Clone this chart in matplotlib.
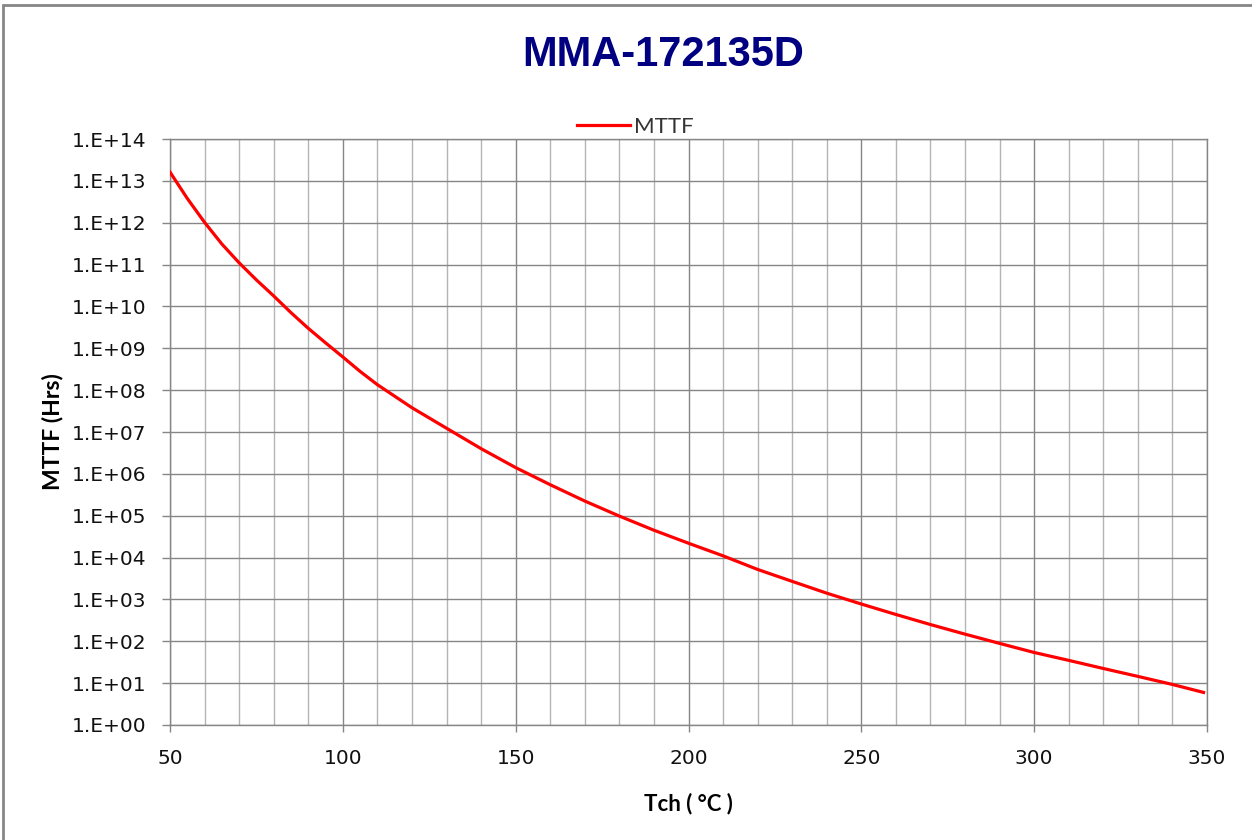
import numpy as np
import matplotlib
matplotlib.use("Agg")
import matplotlib.pyplot as plt
from matplotlib.ticker import MultipleLocator, FixedLocator, FuncFormatter, NullLocator
from matplotlib.patches import Rectangle

# ====== Datos
tch = [50, 55, 60, 65, 70, 75, 80, 85, 90, 95, 100, 105, 110, 120, 130, 140,
       150, 160, 170, 180, 190, 200, 210, 220, 230, 240, 250, 260, 270, 280,
       290, 300, 310, 320, 330, 340, 349]
mttf = [1.62e13, 3.8e12, 1.02e12, 3.1e11, 1.1e11, 4.3e10, 1.78e10, 7.1e9,
        3.0e9, 1.35e9, 6.2e8, 2.8e8, 1.35e8, 3.8e7, 1.23e7, 4.0e6, 1.41e6,
        5.5e5, 2.24e5, 9.8e4, 4.5e4, 2.2e4, 1.1e4, 5.2e3, 2.7e3, 1.41e3, 776,
        437, 251, 148, 89, 54, 35, 22.4, 14.5, 9.3, 6.0]
title = "MMA-172135D"
serie = "MTTF"
x_label = "Tch ( °C )"
y_label = "MTTF (Hrs)"
x_ticks = [50, 100, 150, 200, 250, 300, 350]
y_decades = list(range(0, 15))

plt.rcParams['font.family'] = ['Lato', 'DejaVu Sans']

W, H = 1252, 840
fig = plt.figure(figsize=(W / 100, H / 100), dpi=100)
ax = fig.add_axes([170 / W, 1 - 725 / H, (1207 - 170) / W, (725 - 139) / H])

ax.plot(tch, mttf, color='#ff0000', lw=2.3, label=serie, zorder=3)

ax.set_yscale('log')
ax.set_xlim(50, 350)
ax.set_ylim(1, 1e14)
ax.xaxis.set_major_locator(FixedLocator(x_ticks))
ax.xaxis.set_minor_locator(MultipleLocator(10))
ax.yaxis.set_major_locator(FixedLocator([10.0 ** d for d in y_decades]))
ax.yaxis.set_minor_locator(NullLocator())
ax.yaxis.set_major_formatter(FuncFormatter(lambda v, _: "1.E+%02d" % round(np.log10(v))))

ax.grid(True, which='major', axis='both', color='#868686', lw=1.0)
ax.grid(True, which='minor', axis='x', color='#b4b4b4', lw=1.0)
ax.set_axisbelow(True)
for s in ax.spines.values():
    s.set_color('#868686')
    s.set_linewidth(1.0)

ax.tick_params(axis='y', which='major', length=6, width=1, color='#868686',
               pad=11, labelcolor='#111111', labelsize=14.5,
               labelfontfamily='DejaVu Sans')
ax.tick_params(axis='x', which='major', length=5, width=1, color='#868686',
               pad=12, labelcolor='#111111', labelsize=14.5,
               labelfontfamily='DejaVu Sans')
ax.tick_params(axis='x', which='minor', length=0)

ax.set_xlabel(x_label, fontsize=16, fontweight='bold', va='top')
ax.set_ylabel(y_label, fontsize=16.5, fontweight='bold')
ax.xaxis.set_label_coords(0.5, -0.116)
ax.yaxis.set_label_coords(-0.1032, 0.5)

fig.text(663 / W, 1 - 55 / H, title, ha='center', va='center', fontsize=30,
         fontweight='bold', color='#000080', family='Liberation Sans')

leg = ax.legend(loc='center', bbox_to_anchor=(635 / W, 1 - 127 / H),
                bbox_transform=fig.transFigure, frameon=False, fontsize=16,
                handlelength=2.4, handletextpad=0.15, borderpad=0)
for t in leg.get_texts():
    t.set_color('#333333')

# marco exterior
fig.patches.append(Rectangle((3 / W, -0.05), 1.1, 1 - 4.5 / H + 0.05,
                             transform=fig.transFigure, fill=False,
                             edgecolor='#868686', lw=2))

fig.savefig('out.png', dpi=100)
